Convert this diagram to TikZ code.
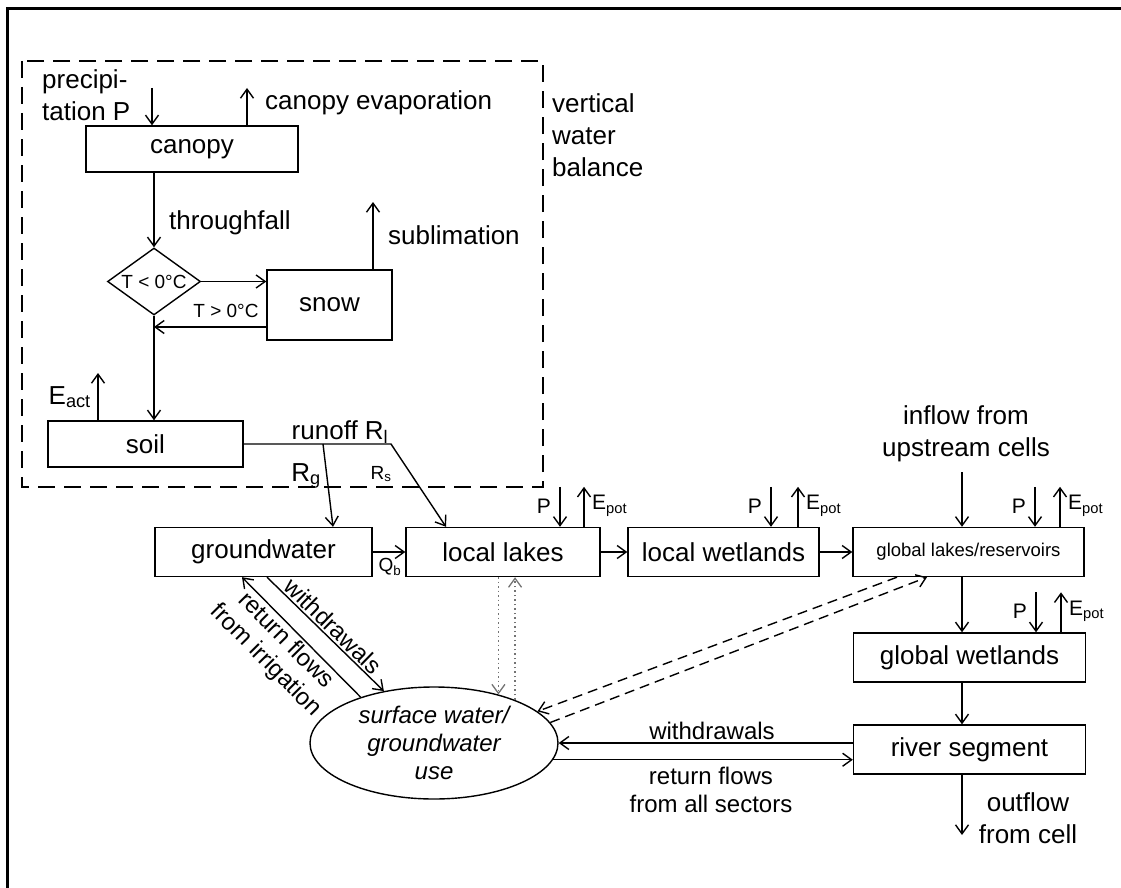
\documentclass[tikz,border=0pt]{standalone}
\usepackage{fontspec}
\setmainfont{Liberation Sans}
\usetikzlibrary{arrows.meta,shapes.geometric}

\begin{document}
\begin{tikzpicture}[x=1pt, y=-1pt,
  box/.style={draw, line width=1.4pt, inner sep=0pt, minimum height=49pt,
    font=\fontsize{26}{31}\selectfont},
  arr/.style={-{Straight Barb[length=9pt,width=13pt]}, line width=1.4pt},
  back/.style={{Straight Barb[length=9pt,width=13pt]}-, line width=1.4pt},
  dotarr/.style={arr, black!55, line width=1.3pt, dash pattern=on 1.5pt off 3pt},
  dasharr/.style={arr, dash pattern=on 10pt off 6pt},
  lbl/.style={inner sep=0pt, font=\fontsize{26}{32}\selectfont},
  mid/.style={inner sep=2pt, font=\fontsize{24}{28}\selectfont},
  tiny/.style={inner sep=0pt, font=\fontsize{19}{22}\selectfont},
  pe/.style={inner sep=0pt, font=\fontsize{21}{24}\selectfont}
]
  \useasboundingbox (0,0) rectangle (1121,888);
  % frame
  \draw[line width=3pt] (7,888) -- (7,9) -- (1121,9);

  % vertical water balance
  \draw[line width=1.8pt, dash pattern=on 17pt off 9pt] (22,61) rectangle (543,487);
  \node[lbl, anchor=west, align=left] (vwb) at (552,135) {vertical\\water\\balance};

  \node[box, minimum width=212pt, minimum height=46pt] (canopy) at (192,149) {canopy};
  \node[box, shape=diamond, aspect=1.4, minimum width=93pt, minimum height=67pt,
    font=\fontsize{19}{22}\selectfont] (tcheck) at (154,281.5) {T < 0°C};
  \node[box, minimum width=125pt, minimum height=70pt] (snow) at (329.5,305) {snow};
  \node[box, minimum width=195pt, minimum height=46pt] (soil) at (145.5,444) {soil};

  \coordinate (pin) at (152,88);
  \coordinate (cevap) at (247,88);
  \node[lbl, anchor=west, align=left] (precip) at (42,95) {precipi-\\tation P};
  \draw[arr] (pin) -- (canopy.north -| pin);
  \draw[arr] (canopy.north -| cevap) -- (cevap);
  \node[lbl, anchor=west] (cevaplbl) at (265,103) {canopy evaporation};

  \draw[arr] (canopy.south -| tcheck.north) -- (tcheck.north);
  \node[lbl, anchor=west] (thrulbl) at (169,223) {throughfall};
  \draw[arr] (tcheck.east) -- (snow.west |- tcheck.east);

  \coordinate (subl) at (373,202);
  \draw[arr] (snow.north -| subl) -- (subl);
  \node[lbl, anchor=west] (subllbl) at (388,235) {sublimation};

  \coordinate (melt) at (154,327);
  \draw[arr] (snow.west |- melt) -- (melt);
  \node[tiny] (meltlbl) at (226,311) {T > 0°C};
  \draw[arr] (tcheck.south) -- (soil.north -| tcheck.south);

  \coordinate (eact) at (98,373);
  \draw[arr] (soil.north -| eact) -- (eact);
  \node[lbl, anchor=base east] (eactlbl) at (91,404) {E\textsubscript{act}};

  % runoff
  \coordinate (runoff) at (391,444);
  \coordinate (rg) at (323,444);

  % horizontal storages
  \node[box, minimum width=217pt] (gw) at (263.5,552) {groundwater};
  \node[box, minimum width=194pt] (lakes) at (503,552) {local lakes};
  \node[box, minimum width=191pt] (lwet) at (723.5,552) {local wetlands};
  \node[box, minimum width=231pt, font=\fontsize{18.5}{22}\selectfont] (glakes)
    at (968.5,552) {global lakes/reservoirs};
  \node[box, minimum width=232pt] (gwet) at (969.5,657.5) {global wetlands};
  \node[box, minimum width=232pt] (river) at (969.5,749.5) {river segment};
  \node[draw, ellipse, line width=1.4pt, inner sep=0pt, minimum width=248pt,
    minimum height=112pt, align=center, font=\fontsize{24}{28}\selectfont\itshape]
    (use) at (434,743) {surface water/\\groundwater\\use};

  \draw[arr] (soil.east) -- (runoff) -- (lakes.north -| 446,0);
  \draw[arr] (rg) -- (gw.north -| 333,0);
  \node[lbl, anchor=base] (runofflbl) at (340,439) {runoff R\textsubscript{l}};
  \node[lbl, anchor=base] (rglbl) at (306,481) {R\textsubscript{g}};
  \node[tiny, anchor=base] (rslbl) at (381,479) {R\textsubscript{s}};

  \draw[arr] (gw.east) -- (lakes.west);
  \node[tiny] (qblbl) at (390,567) {Q\textsubscript{b}};
  \draw[arr] (lakes.east) -- (lwet.west);
  \draw[arr] (lwet.east) -- (glakes.west);

  \foreach \b/\px/\ex in {lakes/560/584, lwet/771/798, glakes/1035/1060, gwet/1036/1061} {
    \path (\b.north -| \px,0) ++(0,-40) coordinate (\b-ptop);
    \path (\b.north -| \ex,0) ++(0,-40) coordinate (\b-etop);
    \draw[arr] (\b-ptop) -- (\b.north -| \px,0);
    \draw[arr] (\b.north -| \ex,0) -- (\b-etop);
    \path (\b-ptop) ++(-9,19) node[pe, anchor=east] (\b-P) {P};
    \path (\b-etop) ++(8,19) node[pe, anchor=west] (\b-E) {E\textsubscript{pot}};
  }

  % river chain
  \node[lbl, align=center] (inflowlbl) at (966,434) {inflow from\\upstream cells};
  \coordinate (inflow) at (962,472);
  \draw[arr] (inflow) -- (glakes.north -| inflow);
  \draw[arr] (glakes.south -| inflow) -- (gwet.north -| inflow);
  \draw[arr] (gwet.south -| inflow) -- (river.north -| inflow);
  \coordinate (outflow) at (962,835);
  \draw[arr] (river.south -| outflow) -- (outflow);
  \node[lbl, align=center] (outflowlbl) at (1028,818) {outflow\\from cell};

  % water use
  \draw[arr] (gw.south -| 267,0) -- node[mid, sloped, above] (gwwlbl) {withdrawals} (use.134);
  \draw[back] (gw.south -| 242,0) -- node[mid, sloped, below, align=center, pos=0.45]
    (irrlbl) {return flows\\from irrigation} (use.148);
  \draw[dotarr] (lakes.south -| use.37) -- (use.37);
  \draw[dotarr] (use.28) -- (lakes.south -| use.28);
  \draw[dasharr] (glakes.south -| 897,0) -- (use.17);
  \draw[dasharr] (use.10) -- (glakes.south -| 927,0);
  \draw[arr] (river.west |- use.east) -- (use.east);
  \draw[arr] (use.-8) -- (river.west |- use.-8);
  \node[mid] (rwlbl) at (712,731) {withdrawals};
  \node[mid, align=center] (rrlbl) at (711,790) {return flows\\from all sectors};
\end{tikzpicture}
\end{document}
